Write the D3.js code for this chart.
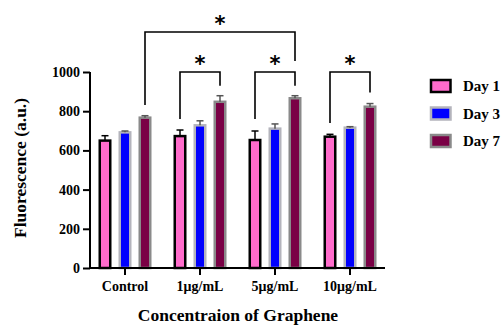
<!DOCTYPE html>
<html>
<head>
<meta charset="utf-8">
<script src="https://cdn.jsdelivr.net/npm/d3@7"></script>
<style>
  body { margin: 0; background: #fff; }
  text { font-weight: bold; }
</style>
</head>
<body>
<div id="chart"></div>
<script>
const groups = ['Control', '1μg/mL', '5μg/mL', '10μg/mL']
const series = ['Day 1', 'Day 3', 'Day 7']
const day1 = [650, 673, 653, 670]
const day3 = [692, 728, 711, 716]
const day7 = [767, 848, 866, 823]
const err1 = [25, 31, 46, 12]
const err3 = [7, 23, 24, 5]
const err7 = [10, 31, 13, 16]
const yTicks = [0, 200, 400, 600, 800, 1000]
// brackets: [group, series] to [group, series], top value, leg end values
const brackets = [
  { from: [0, 2], to: [2, 2], top: 1204, leftEnd: 832, rightEnd: 1056 },
  { from: [1, 0], to: [1, 2], top: 1000, leftEnd: 760, rightEnd: 930 },
  { from: [2, 0], to: [2, 2], top: 1000, leftEnd: 760, rightEnd: 930 },
  { from: [3, 0], to: [3, 2], top: 1000, leftEnd: 740, rightEnd: 895 }
]

const fills = ['#ff6bcb', '#0000ff', '#7a0045']
const strokes = ['#000000', '#b4b4bc', '#8a8a8a']
const values = [day1, day3, day7]
const errs = [err1, err3, err7]
const serif = '"Liberation Serif", "Tinos", "Times New Roman", Times, "DejaVu Serif", serif'

const width = 502, height = 326

const svg = d3.select('#chart').append('svg')
    .attr('width', width)
    .attr('height', height)
    .style('font-family', serif)

const x = d3.scaleBand()
    .domain(groups)
    .range([87.5, 387.5])

const offset = d3.scalePoint()
    .domain(series)
    .range([-20, 20])

const y = d3.scaleLinear()
    .domain([0, 1000])
    .range([268, 72])

function cx(g, s) {
  return x(groups[g]) + x.bandwidth() / 2 + offset(series[s])
}

// bars
const barW = 10.5
series.forEach((s, si) => {
  svg.append('g').selectAll('rect')
    .data(values[si])
    .enter().append('rect')
      .attr('x', (d, i) => cx(i, si) - barW / 2)
      .attr('y', d => y(d))
      .attr('width', barW)
      .attr('height', d => y(0) - y(d))
      .attr('fill', fills[si])
      .attr('stroke', strokes[si])
      .attr('stroke-width', 2.5)

  // error bars (upper only)
  const eg = svg.append('g')
      .attr('stroke', si === 0 ? '#000' : '#555')
      .attr('stroke-width', 1.5)
  values[si].forEach((d, i) => {
    const c = cx(i, si)
    eg.append('line')
        .attr('x1', c).attr('x2', c)
        .attr('y1', y(d)).attr('y2', y(d + errs[si][i]))
    eg.append('line')
        .attr('x1', c - 3.5).attr('x2', c + 3.5)
        .attr('y1', y(d + errs[si][i])).attr('y2', y(d + errs[si][i]))
  })
})

// y axis
const yAxis = svg.append('g')
    .attr('transform', 'translate(90,0)')
    .call(d3.axisLeft(y).tickValues(yTicks).tickFormat(d3.format('d')).tickSize(7).tickPadding(3))
yAxis.attr('font-family', serif)
yAxis.select('.domain').attr('stroke-width', 2).attr('d', 'M0,' + y(1000) + 'V' + y(0))
yAxis.selectAll('.tick line').attr('stroke-width', 2)
yAxis.selectAll('.tick text').attr('font-size', 14).attr('fill', '#000')

// x axis
const xAxis = svg.append('g')
    .attr('transform', 'translate(0,' + y(0) + ')')
    .call(d3.axisBottom(x).tickSize(7).tickPadding(6))
xAxis.attr('font-family', serif)
xAxis.select('.domain').attr('stroke-width', 2).attr('d', 'M89,0H385')
xAxis.selectAll('.tick line').attr('stroke-width', 2)
xAxis.selectAll('.tick text').attr('font-size', 14).attr('fill', '#000')

// axis titles
svg.append('text')
    .attr('x', 238).attr('y', 321)
    .attr('text-anchor', 'middle')
    .attr('font-size', 17.5)
    .text('Concentraion of Graphene')

svg.append('text')
    .attr('transform', 'translate(26,168) rotate(-90)')
    .attr('text-anchor', 'middle')
    .attr('font-size', 17.5)
    .text('Fluorescence (a.u.)')

// significance brackets
brackets.forEach(b => {
  const x1 = cx(b.from[0], b.from[1])
  const x2 = cx(b.to[0], b.to[1])
  svg.append('path')
      .attr('d', 'M' + x1 + ',' + y(b.leftEnd) + 'V' + y(b.top) + 'H' + x2 + 'V' + y(b.rightEnd))
      .attr('fill', 'none')
      .attr('stroke', '#000')
      .attr('stroke-width', 1.6)
  svg.append('text')
      .attr('x', (x1 + x2) / 2)
      .attr('y', y(b.top) - 1)
      .attr('text-anchor', 'middle')
      .attr('font-size', 21)
      .attr('font-family', '"DejaVu Sans", sans-serif')
      .text('*')
})

// legend
const legend = svg.append('g').attr('transform', 'translate(430,79)')
series.forEach((s, i) => {
  legend.append('rect')
      .attr('x', 1).attr('y', i * 27.5 + 1)
      .attr('width', 19.5).attr('height', 12)
      .attr('fill', fills[i])
      .attr('stroke', strokes[i])
      .attr('stroke-width', 2.5)
  legend.append('text')
      .attr('x', 33).attr('y', i * 27.5 + 12)
      .attr('font-size', 15)
      .text(s)
})
</script>
</body>
</html>
